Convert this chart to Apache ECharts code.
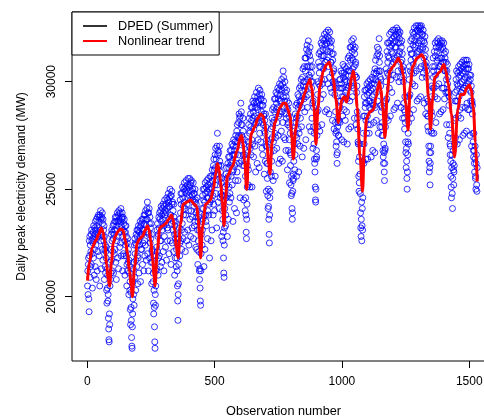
<!DOCTYPE html>
<html><head><meta charset="utf-8">
<script src="https://cdn.jsdelivr.net/npm/echarts@6/dist/echarts.min.js"></script>
<style>html,body{margin:0;padding:0;overflow:hidden;background:#fff}#c{width:484px;height:416px}</style>
</head><body><div id="c"></div>
<script>
// Daily peak electricity demand, in units of 100 MW, one array per summer segment
const seg01=[205,212,201,215,218,199,193, 226,219,228,209,224,214,221, 229,215,231,226,220,204,227, 225,230,218,233,228,210,222, 232,229,214,235,231,224,208, 236,227,233,212,237,229,221, 228,238,232,235,219,237,205, 238,231,240,226,236,213,229, 237,222,239,234,217,236,228, 231,226,233,208,228,222,214, 224,211,221,218,223,203,197, 213,204,210,198,201,190,185, 180,179];
const seg02=[192,187,205,216,208,222,211, 229,217,231,226,212,230,221, 233,227,211,234,229,220,231, 235,222,237,231,216,235,208, 237,233,226,239,218,235,228, 238,213,240,234,236,223,230, 239,235,225,241,219,233,237, 236,239,228,212,237,231,220, 234,219,236,230,226,210,233, 230,224,233,219,228,205,215, 225,212,227,220,216,222,201, 217,211,214,203,207,194,187, 202,195,189,181,177,176,186];
const seg03=[192,199,207,213,201,216,196, 224,209,227,220,225,203,217, 229,224,214,231,228,219,206, 231,218,233,226,211,230,224, 232,228,235,207,233,222,229, 234,222,236,229,215,231,225, 236,231,212,238,234,226,219, 238,224,240,233,236,217,230, 241,236,244,220,239,230,212, 239,229,241,234,218,237,225, 232,227,216,234,229,206,221, 222,216,219,207,211,197,192, 203,195,186,179,176];
const seg04=[201,196,205,212,219,223,213, 231,221,234,228,210,229,218, 237,232,219,239,236,226,214, 240,226,242,235,238,216,231, 241,236,243,221,239,233,212, 242,228,245,238,240,223,234, 243,239,217,246,241,232,226, 245,231,248,242,244,220,236, 246,242,250,226,247,238,215, 247,234,249,243,225,244,231, 240,235,221,243,237,229,210, 233,218,235,227,229,214,222, 225,218,212,205,198,189,201];
const seg05=[206,215,227,232,236,219,225, 245,239,226,248,243,231,222, 248,234,251,246,227,242,238, 250,244,253,230,249,241,221, 251,238,254,248,250,226,243, 252,246,231,255,249,240,224, 251,247,255,236,252,245,228, 253,240,254,249,232,247,237, 250,245,253,227,248,242,233, 248,235,250,244,245,223,239, 243,237,222,246,240,231,215, 235,226,237,221,231,212,208, 213,204,198,196];
const seg06=[212,220,229,235,241,224,231, 247,236,250,241,245,214,238, 250,244,222,253,248,238,235, 251,233,254,246,249,227,240, 252,246,255,238,250,243,218, 253,244,256,248,251,226,245, 256,250,231,259,254,247,238, 261,243,264,256,259,240,252, 266,260,269,248,264,257,232, 270,252,276,266,268,244,261, 267,261,241,270,263,255,246, 258,248,261,253,255,228,247, 247,240,236,226,230,218,211, 209];
const seg07=[224,232,241,247,251,233,238, 257,246,260,252,255,228,247, 262,256,236,265,260,251,244, 265,248,268,261,263,246,256, 268,262,271,252,266,258,235, 270,259,273,266,268,241,261, 272,266,254,275,270,262,239, 277,258,280,272,274,254,266, 281,275,285,262,283,274,246, 284,268,290,280,286,263,275, 280,274,261,283,277,266,245, 271,261,273,264,266,240,256, 246,238,230,227,236];
const seg08=[243,251,261,267,272,252,259, 280,270,283,276,277,251,269, 285,279,266,288,282,273,251, 288,271,291,283,286,265,278, 290,284,293,270,288,280,258, 291,281,295,288,290,262,283, 293,287,273,297,291,281,260, 294,276,296,289,292,272,284, 292,286,294,269,289,281,266, 289,280,291,284,285,257,277, 282,276,263,285,279,270,249, 273,262,270,255,262,247,241, 250,242,236,229,225,238,246];
const seg09=[249,258,267,273,278,256,263, 283,274,287,279,281,254,272, 288,282,268,292,286,276,256, 292,274,295,287,290,269,281, 294,288,297,275,292,284,262, 296,286,299,291,294,264,285, 298,291,277,301,296,286,263, 299,281,305,293,302,274,288, 297,291,300,273,295,285,268, 293,283,296,288,291,259,280, 287,281,268,290,284,273,253, 279,267,276,261,266,252,247, 256,248,241,236,239,249,254, 257];
const seg10=[255,263,271,277,281,259,266, 285,275,289,281,283,256,274, 290,284,271,294,288,278,258, 293,276,297,289,291,270,283, 298,291,301,279,296,288,265, 302,293,306,298,300,269,292, 307,300,286,311,305,296,273, 311,293,315,307,317,288,301, 313,307,319,294,314,303,279, 312,302,316,307,310,277,300, 304,297,283,307,300,290,269, 291,279,288,271,276,264,262, 258,251,245,244,250,264,268];
const seg11=[265,275,286,294,300,279,287, 309,299,313,304,307,277,298, 314,307,292,318,312,301,280, 317,299,320,312,315,294,306, 319,312,322,301,317,309,286, 320,309,323,315,318,287,310, 321,314,299,324,319,307,285, 320,302,323,314,318,297,309, 316,309,319,295,313,304,282, 310,300,313,305,306,278,299, 300,294,297,281,286,276,270, 277,272,266,262,267,279,283, 281,275];
const seg12=[275,282,291,297,301,281,288, 301,291,305,297,299,273,293, 304,297,284,308,302,293,272, 304,287,307,300,301,282,295, 303,296,306,286,300,292,271, 307,297,311,303,305,278,298, 312,305,291,316,310,300,279, 316,298,319,311,314,293,306, 317,310,320,297,315,307,283, 313,303,316,308,309,280,302, 302,295,298,286,283,278,272, 271,263,256,249,253,265,271, 257,248,239,232,228,236,244, 226,233,241];
const seg13=[231,246,263,276,284,262,271, 293,284,296,288,290,264,282, 296,290,276,299,294,284,264, 297,280,300,291,295,276,288, 298,291,301,280,296,287,265, 299,290,302,293,297,268,289, 301,294,281,304,299,289,267, 306,288,310,301,304,282,295, 312,305,316,291,313,300,276, 315,305,320,309,312,279,302, 305,298,301,289,286,279,275, 288,281,275,268,265,262,271, 267,258,254,262,268];
const seg14=[269,279,291,300,306,283,292, 314,304,318,309,312,282,303, 318,311,297,322,316,305,284, 319,301,323,314,317,295,308, 320,313,324,303,318,309,287, 321,311,324,316,319,288,310, 322,316,302,325,321,312,290, 323,305,324,318,322,300,313, 320,314,323,302,318,309,288, 316,306,319,310,313,283,305, 307,300,303,290,287,283,278, 293,286,281,272,267,260,269, 263,255,250,258,266,272,276];
const seg15=[271,281,293,301,307,285,294, 315,305,319,310,313,283,304, 320,313,299,323,317,308,287, 322,304,325,316,319,298,311, 323,317,326,305,321,313,291, 324,314,326,318,322,292,314, 325,319,306,326,323,315,293, 325,307,326,319,322,302,315, 322,316,324,304,319,311,290, 318,308,321,312,315,285,307, 309,302,305,292,288,284,279, 291,284,277,270,263,258,267, 260,252,262,270];
const seg16=[267,277,286,293,298,276,284, 307,297,311,302,305,276,297, 314,307,293,318,312,303,281, 316,298,319,310,314,292,305, 318,311,320,299,316,307,285, 317,307,319,311,315,286,308, 318,311,297,319,316,309,287, 315,297,318,309,313,292,305, 311,305,314,295,309,301,280, 305,295,308,299,302,274,295, 295,289,293,280,276,271,266, 270,263,256,251,246,260,266, 248,241,255,262,268,259,252, 258];
const seg17=[261,271,282,291,295,274,283, 301,291,305,296,299,271,291, 304,298,284,307,302,293,273, 305,287,308,299,303,283,295, 306,300,309,288,304,296,275, 307,297,310,301,305,276,297, 308,302,288,310,306,298,277, 308,290,310,302,306,287,299, 306,300,308,287,303,296,275, 301,291,303,295,298,270,290, 291,285,289,276,272,268,265, 276,268,262,258,264,270,255, 256,250,262,266,252,249,260];
// first observation number of each segment
const segStart=[1,87,178,267,358,446,538,627,718,810,901,987,1081,1170,1261,1349,1441];
// nonlinear trend: observation numbers and fitted values (100 MW)
const trendObs=[1,8,20,33,45,55,62,68,76,82,88,
 95,102,110,118,130,140,150,158,166,172,177,
 186,196,206,216,228,236,243,249,256,262,266,
 275,285,296,308,320,330,337,343,350,357,
 366,377,392,406,420,430,436,441,445,
 453,465,484,495,504,511,518,524,530,537,
 543,550,569,589,600,606,612,618,626,
 634,645,658,670,681,690,698,706,712,717,
 726,737,757,769,779,788,796,803,809,
 818,829,842,855,866,874,881,890,898,
 906,914,927,940,950,958,966,976,986,
 992,999,1009,1018,1029,1038,1045,1052,1060,1071,1081,
 1088,1097,1110,1123,1135,1142,1147,1153,1160,1169,
 1178,1188,1201,1212,1221,1230,1241,1250,1260,
 1268,1278,1295,1313,1322,1330,1340,1348,
 1356,1365,1385,1400,1408,1417,1430,1442,
 1455,1466,1479,1490,1500,1508,1516,1524,1531];
const trendVal=[207.5,216,223,226,229,232,230,226,215,208,205,
 216,225,228,230,231.5,231,226,220,212,205,200,
 214,225,227,228,231,233,231,226,218,210,205,
 222,232,233,234,236,238,236,231,223,218,
 234,243,244,245,243,242,236,227,218,
 233,243,245,250,257,262,259,253,244,233,
 246,256,260.5,268,274,275,271,263,250,
 266,276,279,283,285,284,280,270,262,257,
 272,281,288,290,290,287,284,274,264,
 278,286,290,295,299,301,297,288,271,
 288,298,305,308,309,306,301,292,281,
 286,291.5,293,290.5,296,302,305,300,288,265,249,
 270,283,286,287,293,298,300,296,288,274,
 295,305,307,309,311,309,303,290,277.5,
 298,307,311,312.5,311,307,293,278,
 292,302,304.6,308,305,299,285,265,
 287,294,294,297,298.5,296,288,272,253.5];
const xTicks=[0,500,1000,1500];
const yTicks=[20000,25000,30000];

const segs=[seg01,seg02,seg03,seg04,seg05,seg06,seg07,seg08,seg09,seg10,seg11,seg12,seg13,seg14,seg15,seg16,seg17];
const points=[];
segs.forEach((s,k)=>s.forEach((v,i)=>points.push([segStart[k]+i, v*100])));
const trend=trendObs.map((x,i)=>[x, trendVal[i]*100]);

const font='"Liberation Sans", Arial, Helvetica, sans-serif';
const chart=echarts.init(document.getElementById('c'),null,{renderer:'canvas'});
chart.setOption({
  animation:false,
  textStyle:{fontFamily:font},
  grid:{left:72,top:12,width:423,height:349,show:true,borderColor:'#000',borderWidth:1,backgroundColor:'rgba(0,0,0,0)',containLabel:false,outerBoundsMode:'none'},
  legend:{orient:'vertical',left:72,top:12,padding:[7,6,7,11],itemGap:1,itemWidth:24,itemHeight:2,
    backgroundColor:'#fff',borderColor:'#000',borderWidth:1,borderRadius:0,selectedMode:false,
    textStyle:{color:'#000',fontSize:12.7,lineHeight:14,fontFamily:font,padding:[0,0,0,6]},
    data:[{name:'DPED (Summer)',icon:'rect',itemStyle:{color:'#000',borderWidth:0}},
          {name:'Nonlinear trend',icon:'rect',itemStyle:{color:'#ff0000',borderWidth:0}}]},
  xAxis:{type:'value',min:-60,max:1601,splitLine:{show:false},axisLine:{show:false,onZero:false},
    axisTick:{show:true,inside:false,length:7,customValues:xTicks,lineStyle:{color:'#000'}},
    axisLabel:{customValues:xTicks,color:'#000',fontSize:12,margin:15,fontFamily:font,formatter:v=>String(v)},
    name:'Observation number',nameLocation:'middle',nameGap:44,
    nameTextStyle:{color:'#000',fontSize:12.7,fontFamily:font}},
  yAxis:{type:'value',min:17010,max:33240,splitLine:{show:false},axisLine:{show:false,onZero:false},
    axisTick:{show:true,inside:false,length:7,customValues:yTicks,lineStyle:{color:'#000'}},
    axisLabel:{customValues:yTicks,rotate:90,color:'#000',fontSize:12,margin:14,fontFamily:font,formatter:v=>String(v)},
    name:'Daily peak electricity demand (MW)',nameLocation:'middle',nameGap:44,nameRotate:90,
    nameTextStyle:{color:'#000',fontSize:12,fontFamily:font}},
  series:[
    {name:'DPED (Summer)',type:'scatter',data:points,symbol:'circle',symbolSize:6,progressive:0,
     itemStyle:{color:'rgba(0,0,0,0)',borderColor:'#0000ff',borderWidth:1},emphasis:{disabled:true}},
    {name:'Nonlinear trend',type:'line',data:trend,showSymbol:false,smooth:0.35,smoothMonotone:'x',progressive:0,
     lineStyle:{color:'#ff0000',width:3},itemStyle:{color:'#ff0000'},z:5}
  ]
});
</script></body></html>
